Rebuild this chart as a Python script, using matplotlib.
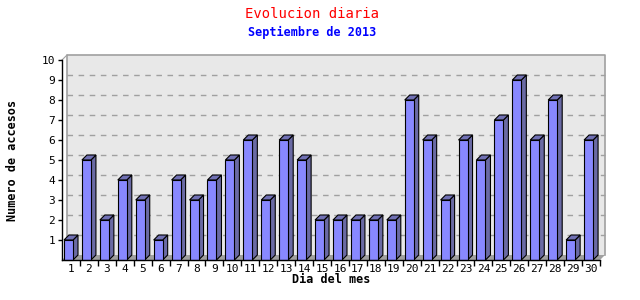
import numpy as np
import matplotlib.pyplot as plt
from matplotlib.patches import Polygon, Rectangle

# ------------------------------------------------------------
# Datos: accesos por dia, septiembre 2013
# ------------------------------------------------------------
dias = list(range(1, 31))
accesos = [1, 5, 2, 4, 3, 1, 4, 3, 4, 5, 6, 3, 6, 5, 2,
           2, 2, 2, 2, 8, 6, 3, 6, 5, 7, 9, 6, 8, 1, 6]
y_ticks = list(range(1, 11))

titulo = "Evolucion diaria"
subtitulo = "Septiembre de 2013"
etiqueta_x = "Dia del mes"
etiqueta_y = "Numero de accesos"

FONT = "DejaVu Sans Mono"

fig = plt.figure(figsize=(6.4, 3.0), dpi=100)
fig.patch.set_facecolor("white")

# ejes en pixeles: x 62..600, y 60..260
L, R, T, B = 62, 600, 60, 260
ax = fig.add_axes([L / 640, 1 - B / 300, (R - L) / 640, (B - T) / 300])
ax.set_xlim(0.5, 30.5)
ax.set_ylim(0, 10)
ax.set_facecolor("none")
for s in ax.spines.values():
    s.set_visible(False)

# pixel -> unidades de datos
ux = 30.0 / (R - L)
uy = 10.0 / (B - T)
dx, dy = 5 * ux, 5 * uy   # profundidad 3D

# pared de fondo
top = 10 + 5 * uy
right = 30.5 + dx
ax.add_patch(Rectangle((0.5 + dx, dy), right - 0.5 - dx, top - dy,
                       facecolor="#e8e8e8", edgecolor="none", zorder=0,
                       clip_on=False))
ax.plot([0.5 + dx, 0.5 + dx, right, right], [dy, top, top, dy],
        color="#a0a0a0", lw=1.2, zorder=1, clip_on=False)
ax.plot([0.5, 0.5 + dx], [10, top], color="#a0a0a0", lw=0.8,
        zorder=1, clip_on=False)

# suelo
ax.add_patch(Polygon([(0.5, 0), (30.5, 0), (30.5 + dx, dy), (0.5 + dx, dy)],
                     closed=True, facecolor="#a0a0a0", edgecolor="none",
                     zorder=1, clip_on=False))

# rejilla
for yv in y_ticks[:-1]:
    ax.plot([0.5 + dx, right], [yv + dy, yv + dy], color="#a0a0a0",
            lw=1.0, ls=(0, (4, 4)), zorder=1, clip_on=False)

# barras 3D
w = 9 * ux
off = 2 * ux
for d, v in zip(dias, accesos):
    x0 = d - 0.5 + off
    x1 = x0 + w
    ax.add_patch(Polygon([(x1, 0), (x1 + dx, dy), (x1 + dx, v + dy), (x1, v)],
                         closed=True, facecolor="#6a6aa4", edgecolor="black",
                         lw=0.8, zorder=3, clip_on=False))
    ax.add_patch(Polygon([(x0, v), (x0 + dx, v + dy), (x1 + dx, v + dy), (x1, v)],
                         closed=True, facecolor="#7070b4", edgecolor="black",
                         lw=0.8, zorder=3, clip_on=False))
    ax.add_patch(Rectangle((x0, 0), w, v, facecolor="#8888ff",
                           edgecolor="black", lw=0.8, zorder=4, clip_on=False))

# ejes frontales
ax.plot([0.5, 0.5], [0, 10], color="black", lw=1.0, zorder=5, clip_on=False)
ax.plot([0.5, 30.5], [0, 0], color="black", lw=1.0, zorder=5, clip_on=False)

ax.set_yticks(y_ticks)
ax.set_yticklabels([str(t) for t in y_ticks], fontfamily=FONT, fontsize=8)
ax.set_xticks(dias)
ax.set_xticklabels([str(d) for d in dias], fontfamily=FONT, fontsize=8)
ax.set_xticks([d + 0.5 for d in dias], minor=True)
ax.tick_params(axis="x", which="major", length=0, pad=3)
ax.tick_params(axis="x", which="minor", length=4, width=1, color="black")
ax.tick_params(axis="y", which="major", length=3, width=1, pad=2)

ax.set_xlabel(etiqueta_x, fontfamily=FONT, fontsize=8.5, fontweight="bold",
              labelpad=-1)
ax.set_ylabel(etiqueta_y, fontfamily=FONT, fontsize=8.5, fontweight="bold",
              labelpad=16)

fig.text(312 / 640, 1 - 14 / 300, titulo, color="red", fontfamily=FONT,
         fontsize=10, ha="center", va="center")
fig.text(312 / 640, 1 - 32 / 300, subtitulo, color="blue", fontfamily=FONT,
         fontsize=8.5, fontweight="bold", ha="center", va="center")

fig.savefig("out.png", dpi=100)
